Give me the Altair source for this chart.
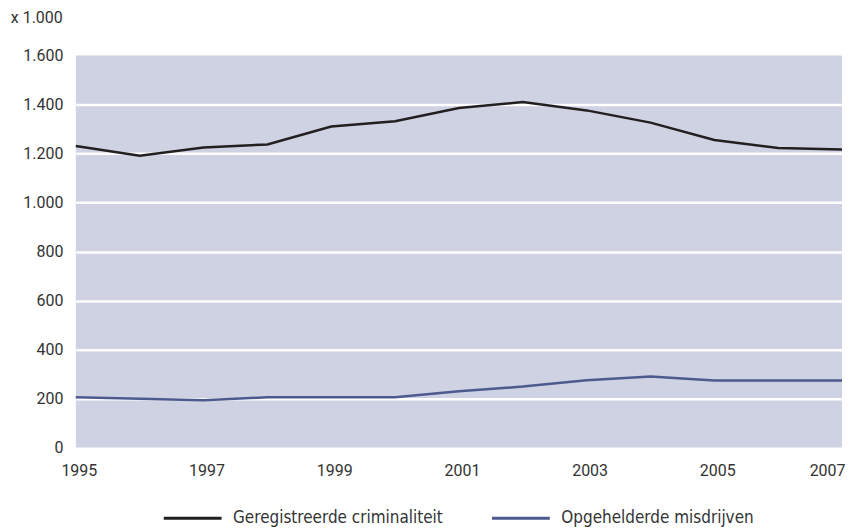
import altair as alt
import pandas as pd

years = list(range(1995, 2008))
geregistreerd = [1231, 1191, 1225, 1237, 1310, 1332, 1386, 1410, 1376, 1326, 1255, 1223, 1216]
opgehelderd = [205, 199, 193, 205, 205, 205, 230, 249, 275, 290, 274, 274, 274]
series_names = ["Geregistreerde criminaliteit", "Opgehelderde misdrijven"]
series_colors = ["#231f20", "#4c5a8e"]
x_ticks = [1995, 1997, 1999, 2001, 2003, 2005, 2007]
y_ticks = [0, 200, 400, 600, 800, 1000, 1200, 1400, 1600]

df = pd.DataFrame({
    "jaar": years * 2,
    "waarde": geregistreerd + opgehelderd,
    "reeks": [series_names[0]] * len(years) + [series_names[1]] * len(years),
})

label_color = "#333333"

chart = alt.Chart(df).mark_line(strokeWidth=2.5).encode(
    x=alt.X(
        "jaar:Q",
        scale=alt.Scale(domain=[1995, 2007], nice=False, zero=False),
        axis=alt.Axis(
            values=x_ticks, format="d", title=None, grid=False, domain=False, ticks=False,
            labelFontSize=16, labelFont="Roboto", labelColor=label_color, labelPadding=15,
            labelOffset=3,
            labelAlign={"condition": {"test": "datum.value == 2007", "value": "right"}, "value": "center"},
        ),
    ),
    y=alt.Y(
        "waarde:Q",
        scale=alt.Scale(domain=[0, 1600], nice=False),
        axis=alt.Axis(
            values=y_ticks,
            labelExpr="replace(format(datum.value, ','), ',', '.')",
            title="x 1.000", titleAngle=0, titleAlign="left", titleBaseline="middle",
            titleX=-65.7, titleY=-38.5, titleFontWeight="normal", titleFontSize=16,
            titleFont="Roboto", titleColor=label_color,
            grid=True,
            gridColor={"condition": {"test": "datum.value == 0 || datum.value == 1600", "value": "transparent"}, "value": "white"},
            gridWidth=2.5, gridOpacity=1,
            domain=False, ticks=False, labelPadding=13, labelFontSize=16,
            labelFont="Roboto", labelColor=label_color,
        ),
    ),
    color=alt.Color(
        "reeks:N",
        scale=alt.Scale(domain=series_names, range=series_colors),
        legend=alt.Legend(
            title=None, orient="none", legendX=86.6, legendY=433, direction="horizontal",
            symbolType="stroke", symbolSize=3364, symbolStrokeWidth=3,
            labelFontSize=17, labelFont="DejaVu Sans Condensed", labelColor=label_color,
            labelOffset=10, columnPadding=42, padding=0, labelLimit=400,
        ),
    ),
).properties(
    width=768, height=393,
    padding={"left": 2, "top": 0, "right": 0, "bottom": 0},
).configure_view(fill="#ced2e2", stroke=None)

chart.save("out.html", embed_options={"renderer": "svg", "actions": False})
